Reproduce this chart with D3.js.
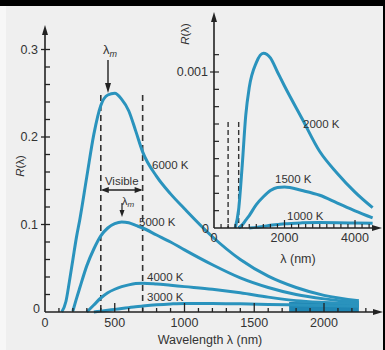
<!DOCTYPE html>
<html>
<head>
<meta charset="utf-8">
<script src="https://cdn.jsdelivr.net/npm/d3@7"></script>
<style>
  body { margin: 0; background: #efefef; }
  svg { display: block; }
  text { font-family: "Liberation Sans", Arial, sans-serif; fill: #333; }
</style>
</head>
<body>
<svg></svg>
<script>
// Main chart: R(lambda) for four temperatures
const mainLabels = ["6000 K", "5000 K", "4000 K", "3000 K"];
const wlMain = [120, 150, 175, 200, 225, 250, 300, 350, 400, 450, 500, 550, 600, 650, 700, 800, 900, 1000, 1200, 1400, 1600, 1800, 2000, 2250];
const r6000 = [0, 0.012, 0.035, 0.06, 0.085, 0.106, 0.155, 0.203, 0.236, 0.248, 0.25, 0.243, 0.23, 0.207, 0.183, 0.155, 0.135, 0.118, 0.086, 0.06, 0.041, 0.028, 0.019, 0.013];
const r5000 = [null, null, null, 0.001, 0.015, 0.028, 0.053, 0.072, 0.087, 0.096, 0.101, 0.103, 0.102, 0.099, 0.096, 0.088, 0.08, 0.071, 0.054, 0.039, 0.028, 0.02, 0.015, 0.011];
const r4000 = [null, null, null, null, null, null, 0, 0.008, 0.016, 0.022, 0.026, 0.029, 0.031, 0.0325, 0.033, 0.032, 0.0305, 0.029, 0.026, 0.022, 0.017, 0.013, 0.011, 0.0095];
const r3000 = [null, null, null, null, null, null, null, 0, 0.001, 0.002, 0.003, 0.004, 0.005, 0.006, 0.0068, 0.0082, 0.0092, 0.0098, 0.0098, 0.0093, 0.0087, 0.008, 0.0073, 0.0066];
// shaded strip under the tails
const bandWl = [1750, 2000, 2250];
const bandTop = [0.0115, 0.0112, 0.011];

// Inset chart: lower temperatures
const insetLabels = ["2000 K", "1500 K", "1000 K"];
const wlInset = [600, 700, 800, 900, 1000, 1200, 1400, 1600, 1800, 2000, 2500, 3000, 3500, 4000, 4500];
const r2000 = [0, 0.00012, 0.0004, 0.00072, 0.0009, 0.00106, 0.00112, 0.00109, 0.001, 0.00091, 0.0007, 0.00049, 0.00035, 0.00023, 0.00013];
const r1500 = [null, 0, 0.00002, 0.00005, 0.00008, 0.00015, 0.0002, 0.00024, 0.00026, 0.000263, 0.00024, 0.00021, 0.00016, 0.00011, 0.000065];
const r1000 = [null, null, null, null, 0, 0.000004, 0.00001, 0.000017, 0.000022, 0.000027, 0.000033, 0.000035, 0.000034, 0.000032, 0.00003];

const mainXTicks = [0, 500, 1000, 1500, 2000];
const mainYTicks = [0.1, 0.2, 0.3];
const insetXTicks = [0, 2000, 4000];
const visible = [400, 700];

const W = 385, H = 350;
const blue = "#2a93bd", ink = "#222";

const svg = d3.select("svg").attr("width", W).attr("height", H);

svg.append("rect").attr("width", W).attr("height", H).attr("fill", "#efefef");
svg.append("rect").attr("width", 6).attr("height", H).attr("fill", "#f7f7f7");
svg.append("rect").attr("width", W).attr("height", 6).attr("fill", "#000");
svg.append("rect").attr("x", W - 2).attr("width", 2).attr("height", H).attr("fill", "#000");

// scales
const x = d3.scaleLinear().domain([0, 2000]).range([45, 324]);
const y = d3.scaleLinear().domain([0, 0.3]).range([312, 49.5]);
const xi = d3.scaleLinear().domain([0, 4000]).range([214, 355]);
const yi = d3.scaleLinear().domain([0, 0.001]).range([228, 72]);

function arrowUp(g, cx, tipY) {
  g.append("path").attr("d", `M${cx},${tipY} L${cx - 3},${tipY + 10} L${cx + 3},${tipY + 10} Z`).attr("fill", ink);
}
function arrowDown(g, cx, tipY) {
  g.append("path").attr("d", `M${cx},${tipY} L${cx - 3},${tipY - 10} L${cx + 3},${tipY - 10} Z`).attr("fill", ink);
}
function arrowRight(g, tipX, cy) {
  g.append("path").attr("d", `M${tipX},${cy} L${tipX - 10},${cy - 3} L${tipX - 10},${cy + 3} Z`).attr("fill", ink);
}

const line = (xs, ys) => d3.line()
  .defined(d => d[1] != null)
  .x(d => xs(d[0])).y(d => ys(d[1]))
  .curve(d3.curveMonotoneX);

// ---- main chart ----
const gm = svg.append("g");

// dashed visible band lines
gm.selectAll(".vis").data(visible).enter().append("line")
  .attr("x1", d => x(d)).attr("x2", d => x(d))
  .attr("y1", y(0.248)).attr("y2", y(0))
  .attr("stroke", "#333").attr("stroke-width", 1.6).attr("stroke-dasharray", "6,4");

gm.append("path")
  .datum(bandWl.map((w, i) => [w, bandTop[i]]))
  .attr("d", d3.area().x(d => x(d[0])).y0(y(0)).y1(d => y(d[1])))
  .attr("fill", "#1f86b3");

[r6000, r5000, r4000, r3000].forEach(r => {
  gm.append("path")
    .datum(wlMain.map((w, i) => [w, r[i]]))
    .attr("d", line(x, y))
    .attr("fill", "none").attr("stroke", blue).attr("stroke-width", 3);
});

// x axis
gm.append("line").attr("x1", x(0)).attr("x2", 378).attr("y1", y(0)).attr("y2", y(0))
  .attr("stroke", ink).attr("stroke-width", 1.6);
arrowRight(gm, 383, y(0));
gm.selectAll(".xm").data(d3.range(100, 2400, 100)).enter().append("line")
  .attr("x1", d => x(d)).attr("x2", d => x(d))
  .attr("y1", y(0)).attr("y2", d => y(0) - (d % 500 === 0 ? 9 : 4))
  .attr("stroke", ink).attr("stroke-width", 1.3);
gm.selectAll(".xl").data(mainXTicks).enter().append("text")
  .attr("x", d => x(d)).attr("y", 327).attr("text-anchor", "middle")
  .attr("font-size", 12.5).text(d => d);
gm.append("text").attr("x", 210).attr("y", 344).attr("text-anchor", "middle")
  .attr("font-size", 12.5).text("Wavelength λ (nm)");

// y axis
gm.append("line").attr("x1", x(0)).attr("x2", x(0)).attr("y1", y(0)).attr("y2", 32)
  .attr("stroke", ink).attr("stroke-width", 1.6);
arrowUp(gm, x(0), 25);
gm.selectAll(".ym").data(d3.range(0.02, 0.31, 0.02)).enter().append("line")
  .attr("x1", d => x(0) - (Math.abs(d * 10 - Math.round(d * 10)) < 1e-6 ? 4 : 0))
  .attr("x2", x(0) + 5)
  .attr("y1", d => y(d)).attr("y2", d => y(d))
  .attr("stroke", ink).attr("stroke-width", 1.3);
gm.selectAll(".yl").data(mainYTicks).enter().append("text")
  .attr("x", 38).attr("y", d => y(d)).attr("dy", "0.35em").attr("text-anchor", "end")
  .attr("font-size", 12.5).text(d => d);
gm.append("text").attr("x", 40).attr("y", 313).attr("text-anchor", "end").attr("font-size", 12.5).text("0");
gm.append("text").attr("transform", "translate(24,166) rotate(-90)").attr("text-anchor", "middle")
  .attr("font-size", 11.5).html("<tspan font-style='italic'>R</tspan>(λ)");

// main curve labels
const mainLabelPos = [[152, 169], [139, 226], [147, 281], [147, 301]];
gm.selectAll(".ml").data(mainLabels).enter().append("text")
  .attr("x", (d, i) => mainLabelPos[i][0]).attr("y", (d, i) => mainLabelPos[i][1])
  .attr("font-size", 11.5).text(d => d);

// lambda_m annotations
gm.append("text").attr("x", 110).attr("y", 54).attr("text-anchor", "middle").attr("font-size", 13)
  .html("λ<tspan font-size='9' font-style='italic' dy='3'>m</tspan>");
gm.append("line").attr("x1", 108).attr("x2", 108).attr("y1", 60).attr("y2", 85).attr("stroke", ink).attr("stroke-width", 1.4);
arrowDown(gm, 108, 93);
gm.append("text").attr("x", 128).attr("y", 205).attr("text-anchor", "middle").attr("font-size", 11)
  .html("λ<tspan font-size='8' font-style='italic' dy='2'>m</tspan>");
gm.append("line").attr("x1", 122).attr("x2", 122).attr("y1", 203).attr("y2", 211).attr("stroke", ink).attr("stroke-width", 1.2);
gm.append("path").attr("d", "M122,217 L119.5,210 L124.5,210 Z").attr("fill", ink);

// visible range arrow
gm.append("line").attr("x1", x(400) + 2).attr("x2", x(700) - 2).attr("y1", 190).attr("y2", 190)
  .attr("stroke", ink).attr("stroke-width", 1.3);
gm.append("path").attr("d", `M${x(400)},190 l8,-3 l0,6 Z M${x(700)},190 l-8,-3 l0,6 Z`).attr("fill", ink);
gm.append("text").attr("x", (x(400) + x(700)) / 2).attr("y", 185).attr("text-anchor", "middle")
  .attr("font-size", 11.5).text("Visible");

// ---- inset ----
const gi = svg.append("g");
gi.selectAll(".vis").data(visible).enter().append("line")
  .attr("x1", d => xi(d)).attr("x2", d => xi(d))
  .attr("y1", 122).attr("y2", yi(0))
  .attr("stroke", "#333").attr("stroke-width", 1.4).attr("stroke-dasharray", "5,3");

[r2000, r1500, r1000].forEach(r => {
  gi.append("path")
    .datum(wlInset.map((w, i) => [w, r[i]]))
    .attr("d", line(xi, yi))
    .attr("fill", "none").attr("stroke", blue).attr("stroke-width", 3);
});

gi.append("line").attr("x1", xi(0)).attr("x2", 377).attr("y1", yi(0)).attr("y2", yi(0))
  .attr("stroke", ink).attr("stroke-width", 1.6);
arrowRight(gi, 382, yi(0));
gi.selectAll(".xm").data(d3.range(200, 4600, 200)).enter().append("line")
  .attr("x1", d => xi(d)).attr("x2", d => xi(d))
  .attr("y1", yi(0)).attr("y2", d => yi(0) - (d % 2000 === 0 ? 8 : 4))
  .attr("stroke", ink).attr("stroke-width", 1.2);
gi.selectAll(".xl").data(insetXTicks).enter().append("text")
  .attr("x", d => xi(d)).attr("y", 242).attr("text-anchor", "middle")
  .attr("font-size", 12.5).text(d => d);
gi.append("text").attr("x", 298).attr("y", 263).attr("text-anchor", "middle")
  .attr("font-size", 12.5).text("λ (nm)");

gi.append("line").attr("x1", xi(0)).attr("x2", xi(0)).attr("y1", yi(0)).attr("y2", 20)
  .attr("stroke", ink).attr("stroke-width", 1.6);
arrowUp(gi, xi(0), 12);
gi.selectAll(".ym").data(d3.range(1, 11).map(i => i * 0.001 / 9)).enter().append("line")
  .attr("x1", (d, i) => xi(0) - (i === 8 ? 4 : 0)).attr("x2", xi(0) + 5)
  .attr("y1", d => yi(d)).attr("y2", d => yi(d))
  .attr("stroke", ink).attr("stroke-width", 1.2);
gi.append("text").attr("x", 208).attr("y", yi(0.001)).attr("dy", "0.35em").attr("text-anchor", "end")
  .attr("font-size", 12.5).text("0.001");
gi.append("text").attr("x", 209).attr("y", 233).attr("text-anchor", "end").attr("font-size", 12.5).text("0");
gi.append("text").attr("transform", "translate(189,34) rotate(-90)").attr("text-anchor", "middle")
  .attr("font-size", 11.5).html("<tspan font-style='italic'>R</tspan>(λ)");

const insetLabelPos = [[303, 128], [275, 183], [287, 220]];
gi.selectAll(".il").data(insetLabels).enter().append("text")
  .attr("x", (d, i) => insetLabelPos[i][0]).attr("y", (d, i) => insetLabelPos[i][1])
  .attr("font-size", 11.5).text(d => d);
</script>
</body>
</html>
